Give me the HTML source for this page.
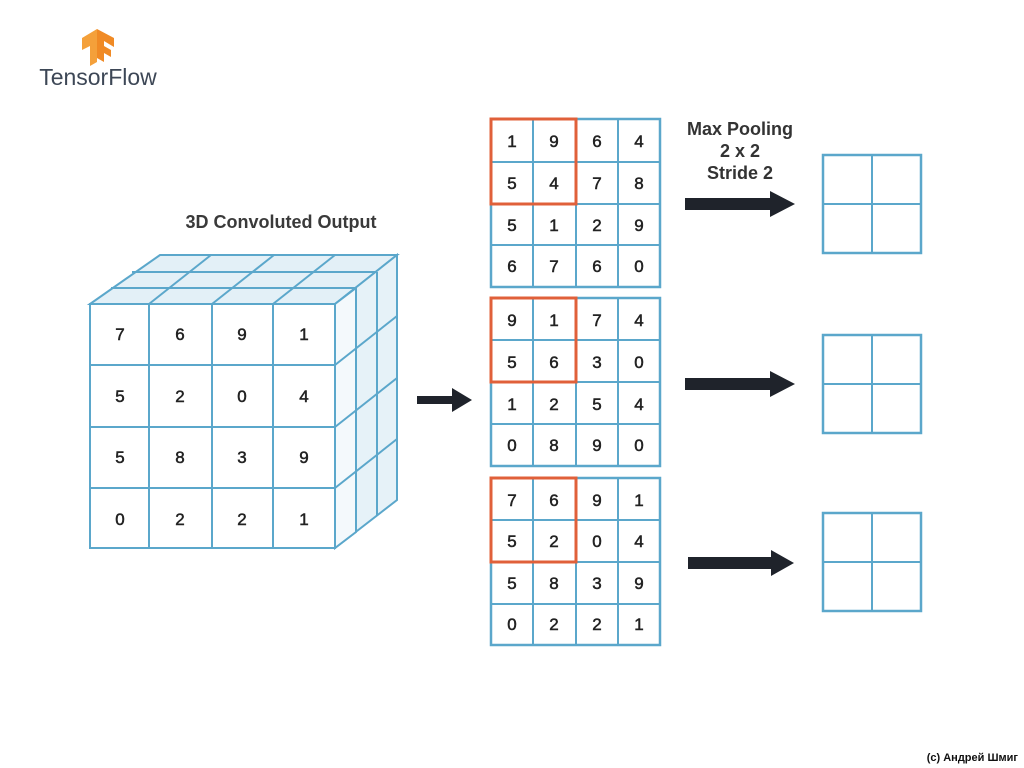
<!DOCTYPE html>
<html><head><meta charset="utf-8"><style>
body{margin:0;background:#fff;}
svg{display:block}
text{font-family:"Liberation Sans",sans-serif;}
</style></head><body>
<svg width="1024" height="768" viewBox="0 0 1024 768" xmlns="http://www.w3.org/2000/svg">
<!-- logo -->
<g>
<polygon points="82,38 97,29 97,62 90,66 90,46 82,50" fill="#f4a03a"/>
<polygon points="97,29 114,38 114,47 104,41 104,46 111,50 111,57 104,53 104,62 97,58" fill="#f08a25"/>
</g>
<text x="98" y="85" font-size="23" fill="#3d4756" text-anchor="middle">TensorFlow</text>

<text x="281" y="228" font-size="18" font-weight="bold" fill="#3a3a3a" text-anchor="middle">3D Convoluted Output</text>

<!-- cube -->
<g stroke="#5ba7cb" stroke-width="2" fill="none">
<polygon points="90,304 160,255 397,255 335,304" fill="#e3f0f7"/>
<polygon points="335,304 397,255 397,500 335,548" fill="#e6f2f8"/>
<polygon points="335,304 356,288 356,532 335,548" fill="#f4f9fc"/>
<line x1="149" y1="304" x2="211" y2="255"/>
<line x1="212" y1="304" x2="274" y2="255"/>
<line x1="273" y1="304" x2="335" y2="255"/>
<line x1="111" y1="288" x2="356" y2="288"/>
<line x1="132" y1="272" x2="377" y2="272"/>
<line x1="356" y1="288" x2="356" y2="532"/>
<line x1="377" y1="272" x2="377" y2="516"/>
<line x1="335" y1="365" x2="397" y2="316"/>
<line x1="335" y1="427" x2="397" y2="378"/>
<line x1="335" y1="488" x2="397" y2="439"/>
<rect x="90" y="304" width="245" height="244" fill="#fff"/>
<line x1="149" y1="304" x2="149" y2="548"/>
<line x1="212" y1="304" x2="212" y2="548"/>
<line x1="273" y1="304" x2="273" y2="548"/>
<line x1="90" y1="365" x2="335" y2="365"/>
<line x1="90" y1="427" x2="335" y2="427"/>
<line x1="90" y1="488" x2="335" y2="488"/>
</g>
<g font-size="17" fill="#222" stroke="#222" stroke-width="0.5" text-anchor="middle">
<text x="120" y="340">7</text><text x="180" y="340">6</text><text x="242" y="340">9</text><text x="304" y="340">1</text>
<text x="120" y="402">5</text><text x="180" y="402">2</text><text x="242" y="402">0</text><text x="304" y="402">4</text>
<text x="120" y="463">5</text><text x="180" y="463">8</text><text x="242" y="463">3</text><text x="304" y="463">9</text>
<text x="120" y="525">0</text><text x="180" y="525">2</text><text x="242" y="525">2</text><text x="304" y="525">1</text>
</g>

<!-- arrows -->
<g fill="#1f232b">
<polygon points="417,396 452,396 452,388 472,400 452,412 452,404 417,404"/>
<polygon points="685,198 770,198 770,191 795,204 770,217 770,210 685,210"/>
<polygon points="685,378 770,378 770,371 795,384 770,397 770,390 685,390"/>
<polygon points="688,557 771,557 771,550 794,563 771,576 771,569 688,569"/>
</g>

<g font-size="18" font-weight="bold" fill="#333" text-anchor="middle">
<text x="740" y="135">Max Pooling</text>
<text x="740" y="157">2 x 2</text>
<text x="740" y="179">Stride 2</text>
</g>

<!-- matrices -->
<g stroke="#5ba7cb" stroke-width="2.5" fill="#fff">
<rect x="491" y="119" width="169" height="168"/>
<rect x="491" y="298" width="169" height="168"/>
<rect x="491" y="478" width="169" height="167"/>
</g>
<g stroke="#5ba7cb" stroke-width="2">
<path d="M533,119V287M576,119V287M618,119V287M491,162H660M491,204H660M491,245H660"/>
<path d="M533,298V466M576,298V466M618,298V466M491,340H660M491,382H660M491,424H660"/>
<path d="M533,478V645M576,478V645M618,478V645M491,520H660M491,562H660M491,604H660"/>
</g>
<g stroke="#e0603a" stroke-width="3" fill="none">
<rect x="491" y="119" width="85" height="85"/>
<rect x="491" y="298" width="85" height="84"/>
<rect x="491" y="478" width="85" height="84"/>
</g>
<g font-size="17" fill="#222" stroke="#222" stroke-width="0.5" text-anchor="middle">
<text x="512" y="147">1</text><text x="554" y="147">9</text><text x="597" y="147">6</text><text x="639" y="147">4</text>
<text x="512" y="189">5</text><text x="554" y="189">4</text><text x="597" y="189">7</text><text x="639" y="189">8</text>
<text x="512" y="231">5</text><text x="554" y="231">1</text><text x="597" y="231">2</text><text x="639" y="231">9</text>
<text x="512" y="272">6</text><text x="554" y="272">7</text><text x="597" y="272">6</text><text x="639" y="272">0</text>

<text x="512" y="326">9</text><text x="554" y="326">1</text><text x="597" y="326">7</text><text x="639" y="326">4</text>
<text x="512" y="368">5</text><text x="554" y="368">6</text><text x="597" y="368">3</text><text x="639" y="368">0</text>
<text x="512" y="410">1</text><text x="554" y="410">2</text><text x="597" y="410">5</text><text x="639" y="410">4</text>
<text x="512" y="451">0</text><text x="554" y="451">8</text><text x="597" y="451">9</text><text x="639" y="451">0</text>

<text x="512" y="506">7</text><text x="554" y="506">6</text><text x="597" y="506">9</text><text x="639" y="506">1</text>
<text x="512" y="547">5</text><text x="554" y="547">2</text><text x="597" y="547">0</text><text x="639" y="547">4</text>
<text x="512" y="589">5</text><text x="554" y="589">8</text><text x="597" y="589">3</text><text x="639" y="589">9</text>
<text x="512" y="630">0</text><text x="554" y="630">2</text><text x="597" y="630">2</text><text x="639" y="630">1</text>
</g>

<!-- small boxes -->
<g stroke="#5ba7cb" stroke-width="2.5" fill="none">
<rect x="823" y="155" width="98" height="98"/>
<rect x="823" y="335" width="98" height="98"/>
<rect x="823" y="513" width="98" height="98"/>
</g>
<g stroke="#5ba7cb" stroke-width="2">
<path d="M872,155V253M823,204H921M872,335V433M823,384H921M872,513V611M823,562H921"/>
</g>

<text x="1018" y="761" font-size="11" font-weight="bold" fill="#111" text-anchor="end">(c) Андрей Шмиг</text>
</svg>
</body></html>
